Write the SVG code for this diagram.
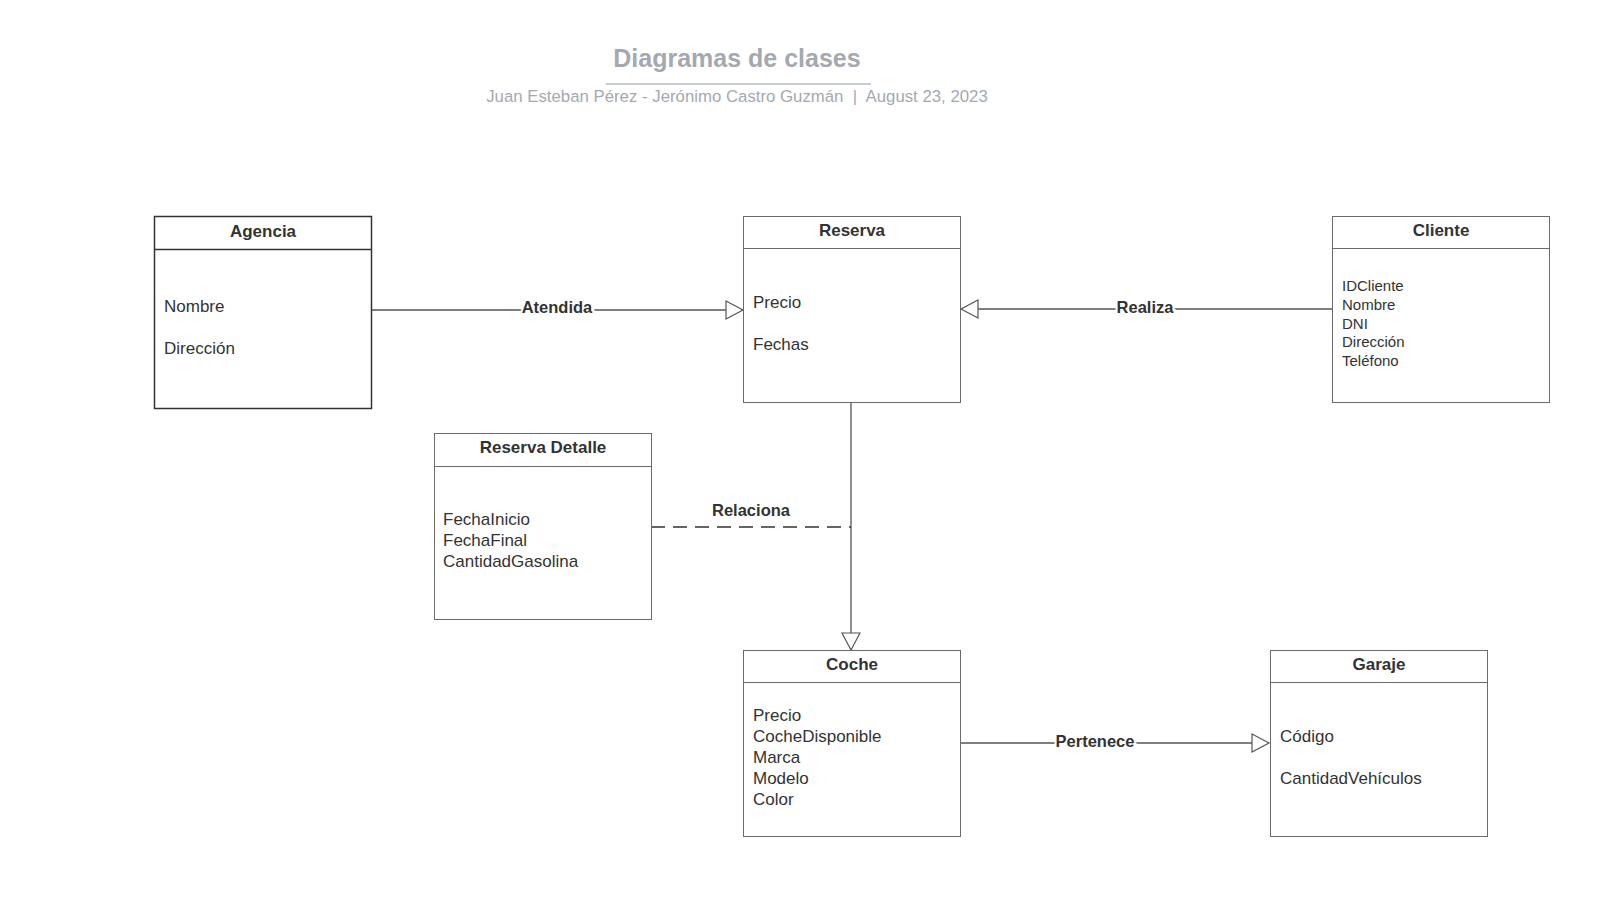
<svg xmlns="http://www.w3.org/2000/svg" width="1600" height="903" viewBox="0 0 1600 903">
<style>
.box{fill:#fff;stroke:#6b6b6b;stroke-width:1}
.hd{font-family:"Liberation Sans",Arial,sans-serif;font-weight:bold;font-size:17px;fill:#333;text-anchor:middle}
.at{font-family:"Liberation Sans",Arial,sans-serif;font-size:17px;fill:#333}
.at2{font-family:"Liberation Sans",Arial,sans-serif;font-size:15px;fill:#333}
.lbl{font-family:"Liberation Sans",Arial,sans-serif;font-weight:bold;font-size:16.5px;fill:#333;text-anchor:middle;stroke:#fff;stroke-width:4px;paint-order:stroke}
.ln{fill:none;stroke:#555;stroke-width:1.3}
</style>
<defs>
<marker id="tri" viewBox="0 0 20 20" refX="18" refY="10" markerWidth="20" markerHeight="20" markerUnits="userSpaceOnUse" orient="auto">
<path d="M1,1 L18,10 L1,19 Z" fill="#fff" stroke="#555" stroke-width="1.2"/>
</marker>
</defs>
<rect width="1600" height="903" fill="#fff"/>
<g id="title">
<text x="737" y="67" font-family="Liberation Sans, Arial, sans-serif" font-weight="bold" font-size="25" fill="#a4a9b1" text-anchor="middle">Diagramas de clases</text>
<line x1="606" y1="84" x2="871" y2="84" stroke="#b4b8bf" stroke-width="1.5"/>
<text x="737" y="102" font-family="Liberation Sans, Arial, sans-serif" font-size="16.8" fill="#a4a9b1" text-anchor="middle" xml:space="preserve">Juan Esteban Pérez - Jerónimo Castro Guzmán  |  August 23, 2023</text>
</g>
<g id="connectors">
<line class="ln" x1="372" y1="310" x2="743" y2="310" marker-end="url(#tri)" stroke="#8a8a8a"/>
<text class="lbl" x="557" y="313">Atendida</text>
<line class="ln" x1="1332" y1="309" x2="961" y2="309" marker-end="url(#tri)"/>
<text class="lbl" x="1145" y="313">Realiza</text>
<line class="ln" x1="851" y1="402" x2="851" y2="650" marker-end="url(#tri)" stroke="#333" stroke-width="1.5"/>
<line x1="651" y1="527" x2="851" y2="527" stroke="#333" stroke-width="1.6" stroke-dasharray="14,8"/>
<text class="lbl" x="751" y="516">Relaciona</text>
<line class="ln" x1="960" y1="743" x2="1269" y2="743" marker-end="url(#tri)" stroke="#333"/>
<text class="lbl" x="1095" y="747">Pertenece</text>
</g>
<g id="agencia">
<rect x="154.5" y="216.5" width="217" height="192" fill="#fff" stroke="#333" stroke-width="1.5"/>
<line x1="154.5" y1="249.5" x2="371.5" y2="249.5" stroke="#333" stroke-width="1.5"/>
<text class="hd" x="263" y="237">Agencia</text>
<text class="at" x="164" y="312">Nombre</text>
<text class="at" x="164" y="354">Dirección</text>
</g>
<g id="reserva">
<rect class="box" x="743.5" y="216.5" width="217" height="186"/>
<line class="box" x1="743.5" y1="248.5" x2="960.5" y2="248.5"/>
<text class="hd" x="852" y="236">Reserva</text>
<text class="at" x="753" y="308">Precio</text>
<text class="at" x="753" y="350">Fechas</text>
</g>
<g id="cliente">
<rect class="box" x="1332.5" y="216.5" width="217" height="186"/>
<line class="box" x1="1332.5" y1="248.5" x2="1549.5" y2="248.5"/>
<text class="hd" x="1441" y="236">Cliente</text>
<text class="at2" x="1342" y="291">IDCliente</text>
<text class="at2" x="1342" y="310">Nombre</text>
<text class="at2" x="1342" y="329">DNI</text>
<text class="at2" x="1342" y="347">Dirección</text>
<text class="at2" x="1342" y="366">Teléfono</text>
</g>
<g id="reserva-detalle">
<rect class="box" x="434.5" y="433.5" width="217" height="186"/>
<line class="box" x1="434.5" y1="466.5" x2="651.5" y2="466.5"/>
<text class="hd" x="543" y="453">Reserva Detalle</text>
<text class="at" x="443" y="525">FechaInicio</text>
<text class="at" x="443" y="546">FechaFinal</text>
<text class="at" x="443" y="567">CantidadGasolina</text>
</g>
<g id="coche">
<rect class="box" x="743.5" y="650.5" width="217" height="186"/>
<line class="box" x1="743.5" y1="682.5" x2="960.5" y2="682.5"/>
<text class="hd" x="852" y="670">Coche</text>
<text class="at" x="753" y="721">Precio</text>
<text class="at" x="753" y="742">CocheDisponible</text>
<text class="at" x="753" y="763">Marca</text>
<text class="at" x="753" y="784">Modelo</text>
<text class="at" x="753" y="805">Color</text>
</g>
<g id="garaje">
<rect class="box" x="1270.5" y="650.5" width="217" height="186"/>
<line class="box" x1="1270.5" y1="682.5" x2="1487.5" y2="682.5"/>
<text class="hd" x="1379" y="670">Garaje</text>
<text class="at" x="1280" y="742">Código</text>
<text class="at" x="1280" y="784">CantidadVehículos</text>
</g>
</svg>
